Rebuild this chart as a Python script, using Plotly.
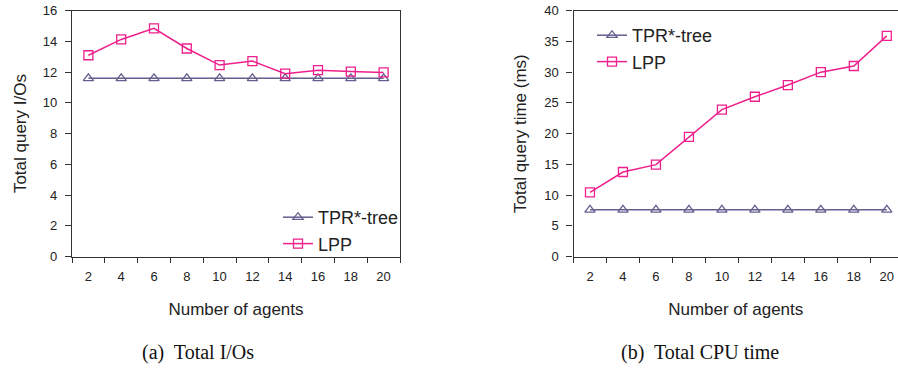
import plotly.graph_objects as go

agents = ["2", "4", "6", "8", "10", "12", "14", "16", "18", "20"]
ios_tpr = [11.6, 11.6, 11.6, 11.6, 11.6, 11.6, 11.6, 11.6, 11.6, 11.6]
ios_lpp = [13.1, 14.13, 14.85, 13.54, 12.46, 12.72, 11.9, 12.13, 12.04, 11.98]
cpu_tpr = [7.6, 7.6, 7.6, 7.6, 7.6, 7.6, 7.6, 7.6, 7.6, 7.6]
cpu_lpp = [10.43, 13.75, 14.95, 19.46, 23.9, 26.0, 27.9, 30.0, 31.0, 35.9]

TPR_COLOR = "#635f8e"
LPP_COLOR = "#ee1f8c"
SANS = "Liberation Sans, Arial, sans-serif"
NARROW = "Liberation Sans Narrow, Liberation Sans, Arial, sans-serif"
SERIF = "Liberation Serif, Times New Roman, serif"

W, H = 898, 368

fig = go.Figure()

def add_pair(xa, ya, tpr, lpp, legend):
    fig.add_trace(go.Scatter(
        x=agents, y=tpr, name="TPR*-tree", mode="lines+markers",
        xaxis=xa, yaxis=ya, legend=legend,
        line=dict(color=TPR_COLOR, width=1.5),
        marker=dict(symbol="triangle-up-open", size=9, color=TPR_COLOR, line=dict(width=1.3))))
    fig.add_trace(go.Scatter(
        x=agents, y=lpp, name="LPP", mode="lines+markers",
        xaxis=xa, yaxis=ya, legend=legend,
        line=dict(color=LPP_COLOR, width=1.5),
        marker=dict(symbol="square-open", size=9, color=LPP_COLOR, line=dict(width=1.3))))

add_pair("x", "y", ios_tpr, ios_lpp, "legend")
add_pair("x2", "y2", cpu_tpr, cpu_lpp, "legend2")

ytop = 1 - 10.7 / H
ybot = 1 - 256.5 / H

axis_common = dict(showgrid=False, zeroline=False, showline=True, linecolor="#333333",
                   linewidth=1.2, ticks="outside", tickcolor="#333333", automargin=False)

xcommon = dict(axis_common, type="category", tickson="boundaries", ticklen=5,
               ticklabelstandoff=8,
               tickfont=dict(family=NARROW, size=13, color="#222222"),
               title=dict(text="Number of agents", font=dict(family=SANS, size=17, color="#222222"),
                          standoff=19))

ycommon = dict(axis_common, ticklen=6, ticklabelstandoff=5,
               tickfont=dict(family=SANS, size=13, color="#222222"))

fig.update_layout(
    width=W, height=H,
    margin=dict(l=0, r=0, t=0, b=0),
    paper_bgcolor="white", plot_bgcolor="white",
    showlegend=True,
    xaxis=dict(xcommon, domain=[72 / W, 400 / W], range=[-0.5, 9.5], mirror=True, anchor="y"),
    yaxis=dict(ycommon, domain=[ybot, ytop], range=[0, 16], dtick=2, mirror=True, anchor="x",
               title=dict(text="Total query I/Os", font=dict(family=SANS, size=17, color="#222222"),
                          standoff=11)),
    xaxis2=dict(xcommon, domain=[573.5 / W, 1.0], range=[-0.5, 9.34], mirror=True, anchor="y2"),
    yaxis2=dict(ycommon, domain=[ybot, ytop], range=[0, 40], dtick=5, mirror=False, anchor="x2",
                title=dict(text="Total query time (ms)", font=dict(family=SANS, size=17, color="#222222"),
                           standoff=13)),
    legend=dict(x=278 / W, y=1 - 199 / H, xanchor="left", yanchor="top",
                bgcolor="rgba(0,0,0,0)", font=dict(family=SANS, size=18, color="#222222"),
                tracegroupgap=0, itemwidth=30),
    legend2=dict(x=592 / W, y=1 - 17 / H, xanchor="left", yanchor="top",
                 bgcolor="rgba(0,0,0,0)", font=dict(family=SANS, size=18, color="#222222"),
                 tracegroupgap=0, itemwidth=30),
    annotations=[
        dict(text="(a)  Total I/Os", x=198 / W, y=1 - 352 / H, xref="paper", yref="paper",
             showarrow=False, xanchor="center", yanchor="middle",
             font=dict(family=SERIF, size=20, color="#111111")),
        dict(text="(b)  Total CPU time", x=700 / W, y=1 - 352 / H, xref="paper", yref="paper",
             showarrow=False, xanchor="center", yanchor="middle",
             font=dict(family=SERIF, size=20, color="#111111")),
    ],
)

fig.write_html("out.html")
